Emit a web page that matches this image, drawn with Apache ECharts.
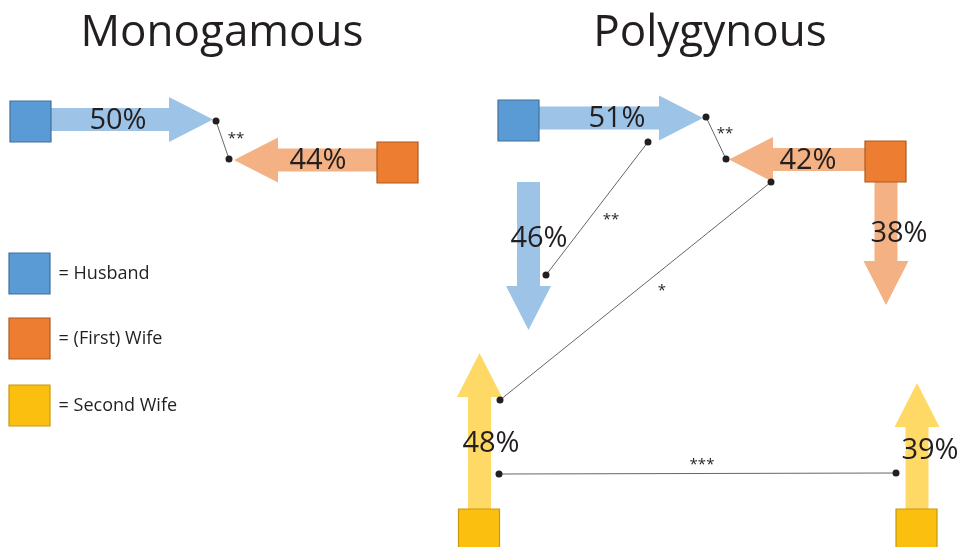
<!DOCTYPE html>
<html>
<head>
<meta charset="utf-8">
<script src="https://cdn.jsdelivr.net/npm/echarts@6/dist/echarts.min.js"></script>
<style>
html,body{margin:0;padding:0;background:#fff;}
#main{width:974px;height:547px;}
</style>
</head>
<body>
<div id="main"></div>
<script>
// ---------- DATA ----------
const panelTitles = ['Monogamous', 'Polygynous'];
const roleNames = ['Husband', '(First) Wife', 'Second Wife'];
// path percentages: mono H->, mono W<-, poly H->, poly W<-, poly H down, poly W down, poly SW1 up, poly SW2 up
const pathValues = [50, 44, 51, 42, 46, 38, 48, 39];
const pathRoles = [0, 1, 0, 1, 0, 1, 2, 2];
const sigLabels = ['**', '**', '**', '*', '***'];

// ---------- LAYOUT (diagram space, same units as canvas) ----------
const FONT = 'Open Sans';
const TEXT = '#231f20';
const squareFill = ['#5b9bd5', '#ed7d31', '#fbbf10'];
const squareStroke = ['#41719c', '#ae5a21', '#c9980c'];
const arrowFill = ['#9dc3e6', '#f4b183', '#ffd966'];

const titlePos = [217, 705];
const arrowGeom = [
  [51, 119.5, 213, 119.5],
  [377, 160, 234, 160],
  [539, 118, 703, 118],
  [865, 159.5, 729, 159.5],
  [528.5, 182, 528.5, 330],
  [886, 182, 886, 305],
  [479.5, 509, 479.5, 353],
  [917, 509, 917, 383]
];
const arrowLabelPos = [
  [118, 121], [318, 161], [617, 119], [808, 161],
  [539, 239], [899, 234], [491, 444], [930, 451]
];
const nodePos = [
  [30.5, 121.5, 0], [397.5, 162.5, 1],
  [518.5, 120.5, 0], [885.5, 161.5, 1],
  [479, 529.5, 2], [916.5, 529.5, 2]
];
const legendPos = [[29.5, 273.5], [29.5, 338.5], [29.5, 405.5]];
const sigEnds = [
  [216, 121, 229, 159],
  [706, 117, 726, 159],
  [648, 142, 546, 275],
  [771, 182, 500, 400],
  [499, 474, 896, 473]
];
const sigLabelPos = [[236, 139], [725, 134], [611, 220], [662, 291], [702, 465]];

const arrowData = pathValues.map((v, i) => [...arrowGeom[i], ...arrowLabelPos[i], v, pathRoles[i]]);

function renderArrow(params, api) {
  const s = api.coord([api.value(0), api.value(1)]);
  const t = api.coord([api.value(2), api.value(3)]);
  const lp = api.coord([api.value(4), api.value(5)]);
  const v = api.value(6);
  const role = api.value(7);
  const sw = 11.5, hw = 22.5, hl = 44;
  const dx = t[0] - s[0], dy = t[1] - s[1];
  const L = Math.sqrt(dx * dx + dy * dy);
  const ux = dx / L, uy = dy / L;
  const nx = -uy, ny = ux;
  const bx = t[0] - ux * hl, by = t[1] - uy * hl;
  const pts = [
    [s[0] + nx * sw, s[1] + ny * sw],
    [bx + nx * sw, by + ny * sw],
    [bx + nx * hw, by + ny * hw],
    [t[0], t[1]],
    [bx - nx * hw, by - ny * hw],
    [bx - nx * sw, by - ny * sw],
    [s[0] - nx * sw, s[1] - ny * sw]
  ];
  return {
    type: 'group',
    children: [
      { type: 'polygon', shape: { points: pts }, style: { fill: arrowFill[role] } },
      { type: 'text', x: lp[0], y: lp[1], z2: 10,
        style: { text: v + '%', fill: TEXT, font: '29px "' + FONT + '"', align: 'center', verticalAlign: 'middle' } }
    ]
  };
}

const chart = echarts.init(document.getElementById('main'), null, { renderer: 'canvas' });
chart.setOption({
  animation: false,
  backgroundColor: '#ffffff',
  title: panelTitles.map((t, i) => ({
    text: t, left: titlePos[i], top: 6, textAlign: 'center',
    textStyle: { fontFamily: FONT, fontSize: 44, fontWeight: 'normal', color: TEXT }
  })),
  grid: { left: 0, right: 0, top: 0, bottom: 0 },
  xAxis: { type: 'value', min: 0, max: 974, show: false },
  yAxis: { type: 'value', min: 0, max: 547, inverse: true, show: false },
  series: [
    {
      type: 'custom', name: 'paths', renderItem: renderArrow,
      encode: { x: [0, 2], y: [1, 3] }, data: arrowData, z: 1, clip: false
    },
    {
      type: 'scatter', name: 'nodes', symbol: 'rect', symbolSize: 41, z: 3,
      data: nodePos.map(p => ({
        value: [p[0], p[1]],
        itemStyle: { color: squareFill[p[2]], borderColor: squareStroke[p[2]], borderWidth: 1.2, opacity: 1 }
      }))
    },
    {
      type: 'scatter', name: 'legend', symbol: 'rect', symbolSize: 41, z: 3,
      data: roleNames.map((r, i) => ({
        value: legendPos[i], name: r,
        itemStyle: { color: squareFill[i], borderColor: squareStroke[i], borderWidth: 1.2, opacity: 1 },
        label: { show: true, position: 'right', distance: 8, formatter: '= ' + r,
          fontFamily: FONT, fontSize: 18, color: TEXT, opacity: 1 }
      }))
    },
    {
      type: 'lines', name: 'sig', coordinateSystem: 'cartesian2d', z: 4,
      lineStyle: { color: '#555555', width: 0.9, opacity: 1 },
      data: sigEnds.map(e => ({ coords: [[e[0], e[1]], [e[2], e[3]]] }))
    },
    {
      type: 'scatter', name: 'ends', symbol: 'circle', symbolSize: 7, z: 5,
      itemStyle: { color: TEXT, opacity: 1 },
      data: sigEnds.flatMap(e => [[e[0], e[1]], [e[2], e[3]]])
    },
    {
      type: 'scatter', name: 'sigLabels', symbolSize: 0, z: 5,
      itemStyle: { opacity: 1 },
      data: sigLabels.map((s, i) => ({
        value: sigLabelPos[i],
        label: { show: true, position: 'inside', formatter: s, fontFamily: FONT, fontSize: 15, color: TEXT, opacity: 1 }
      }))
    }
  ]
});
</script>
</body>
</html>
